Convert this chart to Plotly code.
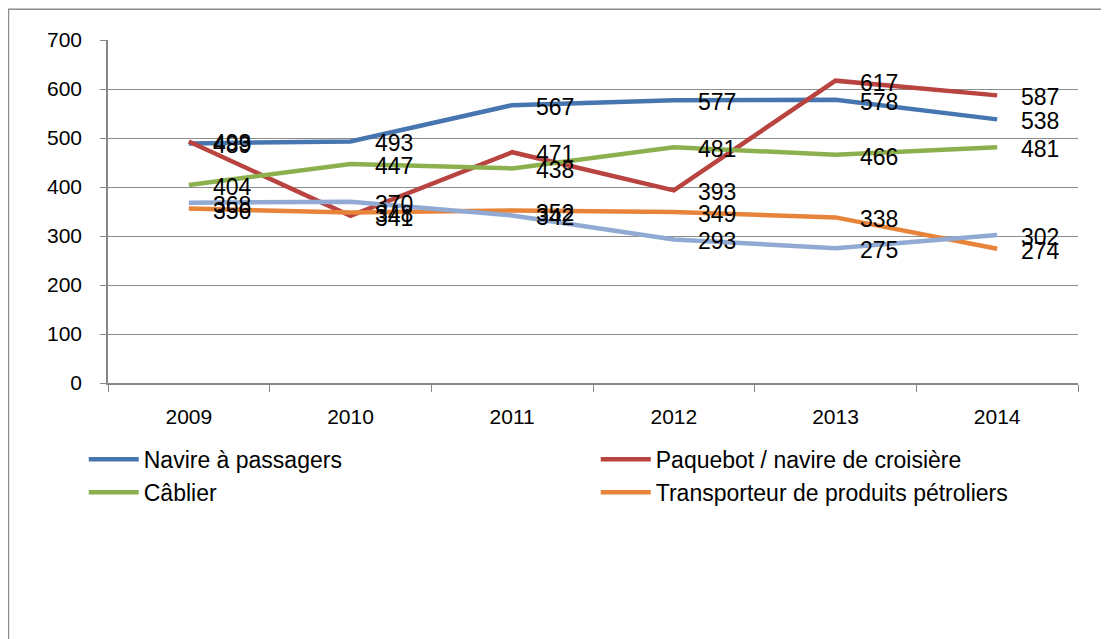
import plotly.graph_objects as go

years = ["2009", "2010", "2011", "2012", "2013", "2014"]
navire = [489, 493, 567, 577, 578, 538]
paquebot = [493, 341, 471, 393, 617, 587]
cablier = [404, 447, 438, 481, 466, 481]
transporteur = [356, 348, 352, 349, 338, 274]
autre = [368, 370, 342, 293, 275, 302]

series = [
    ("Navire à passagers", navire, "#4675AF", True),
    ("Paquebot / navire de croisière", paquebot, "#B8433F", True),
    ("Câblier", cablier, "#8DB04F", True),
    ("Transporteur de produits pétroliers", transporteur, "#E8843A", True),
    ("Autre", autre, "#91AAD3", False),
]

FONT = "Liberation Sans"

fig = go.Figure()
annotations = []
for name, vals, color, show in series:
    fig.add_trace(go.Scatter(
        x=years, y=vals, mode="lines", name=name,
        line=dict(color=color, width=4.5),
        showlegend=show,
    ))
    for i, yv in enumerate(vals):
        annotations.append(dict(
            x=i, y=yv, xref="x", yref="y", text=str(yv), showarrow=False,
            xanchor="left", yanchor="middle", xshift=22, yshift=-2,
            font=dict(family=FONT, size=23, color="black"),
        ))

fig.update_layout(
    width=1101, height=631,
    margin=dict(l=100, r=31, t=32, b=256),
    paper_bgcolor="white", plot_bgcolor="white",
    font=dict(family=FONT, size=21, color="black"),
    annotations=annotations,
    legend=dict(
        orientation="h", x=-0.025, y=-0.16, xanchor="left", yanchor="top",
        entrywidth=447, entrywidthmode="pixels",
        font=dict(family=FONT, size=23, color="black"),
        itemwidth=50, tracegroupgap=0,
    ),
    shapes=[dict(
        type="rect", xref="paper", yref="paper",
        x0=-0.1026, x1=1.2, y0=-0.9, y1=1.090,
        line=dict(color="#8C8C8C", width=1.5), fillcolor="rgba(0,0,0,0)",
        layer="below",
    )],
)
fig.update_xaxes(
    type="category", tickson="boundaries", ticks="outside", ticklen=7,
    tickcolor="#868686", showgrid=False, showline=True, linecolor="#868686",
    linewidth=1.5, tickfont=dict(size=21), range=[-0.5, 5.5],
    ticklabelstandoff=14,
)
fig.update_yaxes(
    range=[0, 700], dtick=100, tick0=0, ticks="outside", ticklen=6,
    tickcolor="#868686", showgrid=True, gridcolor="#8C8C8C", gridwidth=1.3,
    showline=True, linecolor="#868686", linewidth=1.5, zeroline=False,
    tickfont=dict(size=21), ticklabelstandoff=14,
)

fig.write_html("out.html")
